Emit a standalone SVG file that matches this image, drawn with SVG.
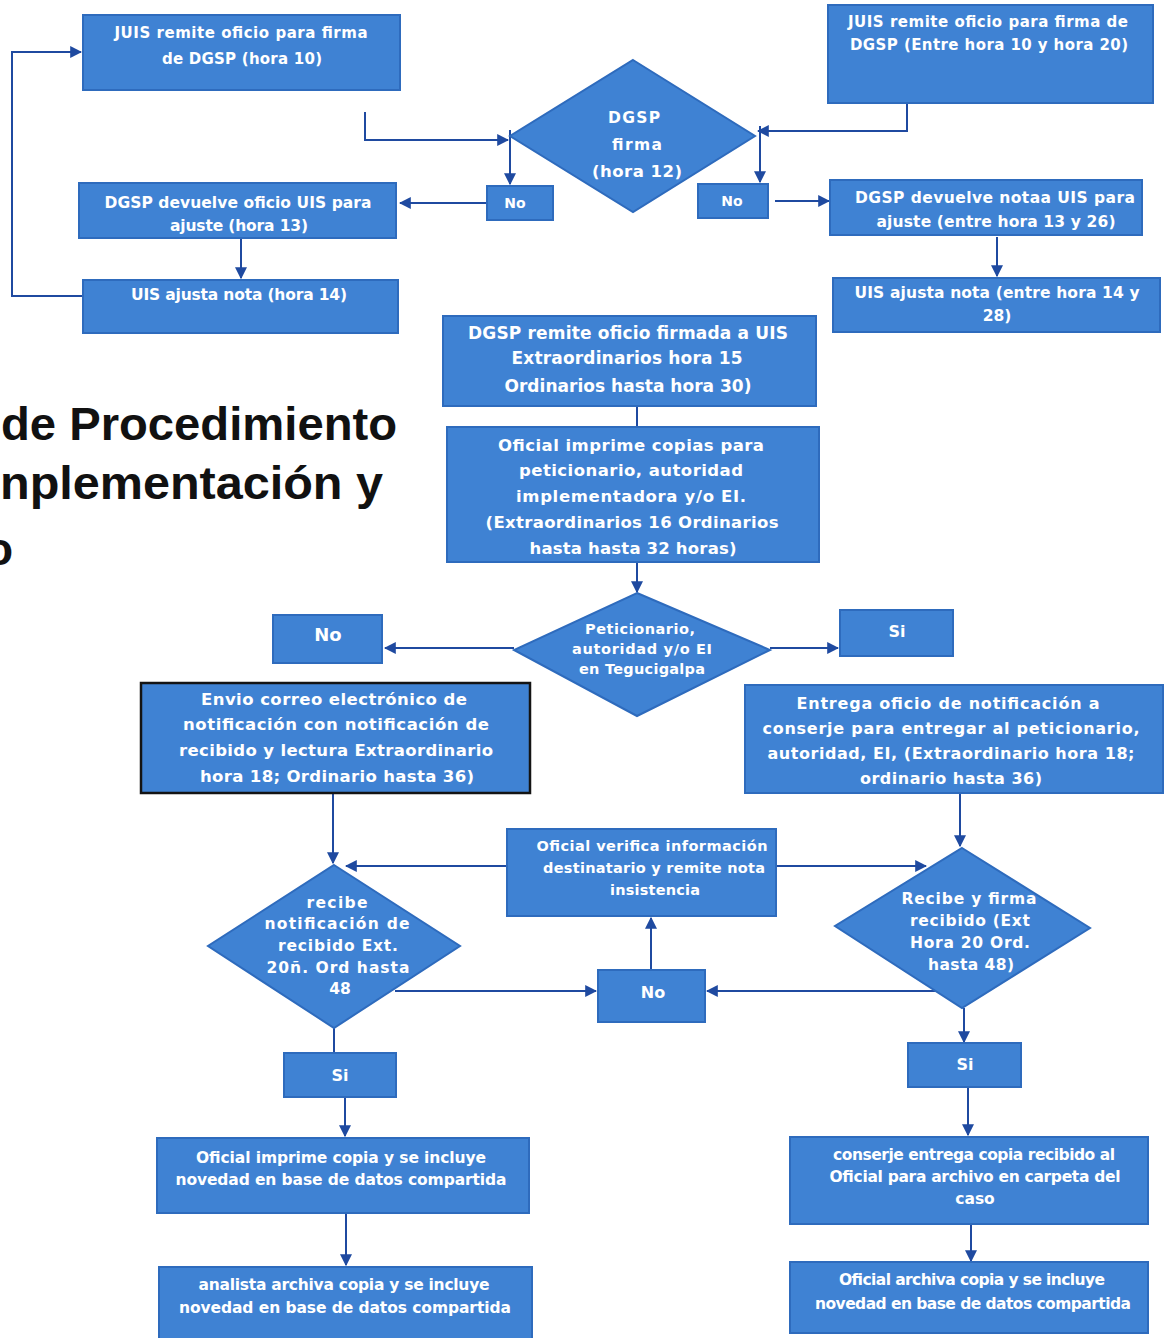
<svg xmlns="http://www.w3.org/2000/svg" width="1167" height="1338" viewBox="0 0 1167 1338">
<style>
.bx{fill:#3f82d3;stroke:#2e6bbd;stroke-width:2}
.bk{fill:#3f82d3;stroke:#141414;stroke-width:2.5}
.t{font-family:"DejaVu Sans","Liberation Sans",sans-serif;font-weight:bold;fill:#ffffff;text-anchor:middle}
.c{stroke:#1f4aa0;stroke-width:2;fill:none}
.ca{stroke:#1f4aa0;stroke-width:2;fill:none;marker-end:url(#a)}
.ti{font-family:"Liberation Sans",Arial,sans-serif;font-weight:bold;fill:#111111;font-size:46px}
</style>
<defs>
<marker id="a" viewBox="0 0 10 10" refX="9" refY="5" markerWidth="6" markerHeight="6" orient="auto" markerUnits="strokeWidth">
<path d="M0,0 L10,5 L0,10 z" fill="#1f4aa0"/>
</marker>
</defs>
<rect width="1167" height="1338" fill="#ffffff"/>

<g id="title">
<text class="ti" x="1" y="440" textLength="396" lengthAdjust="spacingAndGlyphs">de Procedimiento</text>
<text class="ti" x="0" y="499" textLength="383" lengthAdjust="spacingAndGlyphs">nplementación y</text>
<text class="ti" x="-15" y="565">o</text>
</g>

<g id="connectors">
<path class="ca" d="M83,296 H12 V52 H81"/>
<path class="ca" d="M365,112 V140 H508"/>
<path class="ca" d="M510,130 V184"/>
<path class="ca" d="M486,203 H400"/>
<path class="ca" d="M241,239 V278"/>
<path class="ca" d="M907,103 V131 H758"/>
<path class="ca" d="M760,126 V182"/>
<path class="ca" d="M775,201 H829"/>
<path class="ca" d="M997,237 V276"/>
<path class="c" d="M637,406 V427"/>
<path class="ca" d="M637,562 V592"/>
<path class="ca" d="M514,648 H385"/>
<path class="ca" d="M770,648 H838"/>
<path class="ca" d="M333,793 V863"/>
<path class="ca" d="M507,866 H346"/>
<path class="ca" d="M776,866 H926"/>
<path class="ca" d="M960,793 V846"/>
<path class="ca" d="M395,991 H596"/>
<path class="ca" d="M937,991 H707"/>
<path class="ca" d="M651,970 V918"/>
<path class="c" d="M334,1028 V1053"/>
<path class="ca" d="M345,1097 V1136"/>
<path class="ca" d="M346,1213 V1265"/>
<path class="ca" d="M964,1008 V1042"/>
<path class="ca" d="M968,1087 V1135"/>
<path class="ca" d="M971,1224 V1261"/>
</g>

<g id="n1">
<rect class="bx" x="83" y="15" width="317" height="75"/>
<text class="t" x="241" y="38" font-size="15" textLength="253">JUIS remite oficio  para firma</text>
<text class="t" x="242" y="64" font-size="15" textLength="160">de DGSP (hora 10)</text>
</g>

<g id="n2">
<rect class="bx" x="828" y="5" width="325" height="98"/>
<text class="t" x="988" y="27" font-size="15" textLength="280">JUIS remite oficio para firma de</text>
<text class="t" x="989" y="50" font-size="15" textLength="278">DGSP (Entre hora 10 y hora 20)</text>
</g>

<g id="n3">
<polygon class="bx" points="633,60 755,136 633,212 510,136"/>
<text class="t" x="634" y="123" font-size="15.5" textLength="52">DGSP</text>
<text class="t" x="637" y="150" font-size="15.5" font-weight="normal" textLength="50">firma</text>
<text class="t" x="637" y="177" font-size="16.5" font-weight="normal" textLength="90">(hora 12)</text>
</g>

<g id="n4">
<rect class="bx" x="487" y="186" width="66" height="34"/>
<text class="t" x="515" y="208" font-size="14">No</text>
</g>

<g id="n5">
<rect class="bx" x="698" y="184" width="70" height="34"/>
<text class="t" x="732" y="206" font-size="14" font-weight="normal">No</text>
</g>

<g id="n6">
<rect class="bx" x="79" y="183" width="317" height="55"/>
<text class="t" x="238" y="208" font-size="15.5" textLength="267">DGSP devuelve oficio UIS  para</text>
<text class="t" x="239" y="231" font-size="15.5" textLength="138">ajuste (hora 13)</text>
</g>

<g id="n7">
<rect class="bx" x="83" y="280" width="315" height="53"/>
<text class="t" x="239" y="300" font-size="15.5" textLength="216">UIS ajusta nota (hora 14)</text>
</g>

<g id="n8">
<rect class="bx" x="830" y="180" width="312" height="55"/>
<text class="t" x="995" y="203" font-size="15.5" textLength="280">DGSP devuelve notaa UIS  para</text>
<text class="t" x="996" y="227" font-size="15.5" font-weight="normal" textLength="239">ajuste (entre hora 13 y 26)</text>
</g>

<g id="n9">
<rect class="bx" x="833" y="278" width="327" height="54"/>
<text class="t" x="997" y="298" font-size="15.5" textLength="285">UIS ajusta nota (entre hora 14 y</text>
<text class="t" x="997" y="321" font-size="15.5">28)</text>
</g>

<g id="n10">
<rect class="bx" x="443" y="316" width="373" height="90"/>
<text class="t" x="628" y="339" font-size="17" textLength="320">DGSP remite oficio firmada a UIS</text>
<text class="t" x="627" y="364" font-size="17" textLength="231">Extraordinarios hora 15</text>
<text class="t" x="628" y="392" font-size="17" textLength="247">Ordinarios hasta hora 30)</text>
</g>

<g id="n11">
<rect class="bx" x="447" y="427" width="372" height="135"/>
<text class="t" x="631" y="451" font-size="16.5" textLength="266">Oficial imprime copias para</text>
<text class="t" x="631" y="476" font-size="16.5" textLength="224">peticionario, autoridad</text>
<text class="t" x="631" y="502" font-size="16.5" textLength="230">implementadora y/o EI.</text>
<text class="t" x="632" y="528" font-size="16.5" textLength="293">(Extraordinarios 16 Ordinarios</text>
<text class="t" x="633" y="554" font-size="16.5" textLength="207">hasta hasta 32 horas)</text>
</g>

<g id="n12">
<polygon class="bx" points="637,593 770,650 637,716 514,650"/>
<text class="t" x="640" y="634" font-size="14.5" textLength="110">Peticionario,</text>
<text class="t" x="642" y="654" font-size="14.5" textLength="140">autoridad y/o EI</text>
<text class="t" x="642" y="674" font-size="14.5" textLength="126">en Tegucigalpa</text>
</g>

<g id="n13">
<rect class="bx" x="273" y="615" width="109" height="48"/>
<text class="t" x="328" y="641" font-size="18">No</text>
</g>

<g id="n14">
<rect class="bx" x="840" y="610" width="113" height="46"/>
<text class="t" x="897" y="637" font-size="16">Si</text>
</g>

<g id="n15">
<rect class="bk" x="141" y="683" width="389" height="110"/>
<text class="t" x="334" y="705" font-size="16.5" textLength="266">Envio correo electrónico de</text>
<text class="t" x="336" y="730" font-size="16.5" textLength="306">notificación con notificación de</text>
<text class="t" x="336" y="756" font-size="16.5" textLength="314">recibido y lectura Extraordinario</text>
<text class="t" x="337" y="782" font-size="16.5" textLength="274">hora 18; Ordinario hasta 36)</text>
</g>

<g id="n16">
<rect class="bx" x="745" y="685" width="418" height="108"/>
<text class="t" x="948" y="709" font-size="16" textLength="303">Entrega oficio de notificación a</text>
<text class="t" x="951" y="734" font-size="16" textLength="377">conserje para entregar al peticionario,</text>
<text class="t" x="951" y="759" font-size="16" textLength="367">autoridad, EI, (Extraordinario hora 18;</text>
<text class="t" x="951" y="784" font-size="16" font-weight="normal" textLength="182">ordinario hasta 36)</text>
</g>

<g id="n17">
<rect class="bx" x="507" y="829" width="269" height="87"/>
<text class="t" x="652" y="851" font-size="14.5" textLength="231">Oficial verifica información</text>
<text class="t" x="654" y="873" font-size="14.5" textLength="222">destinatario y remite nota</text>
<text class="t" x="655" y="895" font-size="14.5" textLength="90">insistencia</text>
</g>

<g id="n18">
<polygon class="bx" points="334,865 460,946 334,1028 208,946"/>
<text class="t" x="337" y="908" font-size="15.5" textLength="61">recibe</text>
<text class="t" x="337" y="929" font-size="15.5" textLength="145">notificación de</text>
<text class="t" x="338" y="951" font-size="15.5" textLength="120">recibido Ext.</text>
<text class="t" x="338" y="973" font-size="15.5" textLength="143">20ñ. Ord hasta</text>
<text class="t" x="340" y="994" font-size="15.5">48</text>
</g>

<g id="n19">
<polygon class="bx" points="962,848 1090,928 962,1008 835,926"/>
<text class="t" x="969" y="904" font-size="15.5" font-weight="normal" textLength="135">Recibe y firma</text>
<text class="t" x="970" y="926" font-size="15.5" font-weight="normal" textLength="120">recibido (Ext</text>
<text class="t" x="970" y="948" font-size="15.5" font-weight="normal" textLength="120">Hora 20 Ord.</text>
<text class="t" x="971" y="970" font-size="15.5" font-weight="normal" textLength="86">hasta 48)</text>
</g>

<g id="n20">
<rect class="bx" x="598" y="970" width="107" height="52"/>
<text class="t" x="653" y="998" font-size="16" font-weight="normal">No</text>
</g>

<g id="n21">
<rect class="bx" x="284" y="1053" width="112" height="44"/>
<text class="t" x="340" y="1081" font-size="16">Si</text>
</g>

<g id="n22">
<rect class="bx" x="908" y="1043" width="113" height="44"/>
<text class="t" x="965" y="1070" font-size="16" font-weight="normal">Si</text>
</g>

<g id="n23">
<rect class="bx" x="157" y="1138" width="372" height="75"/>
<text class="t" x="341" y="1163" font-size="15.5" textLength="290">Oficial imprime copia y se incluye</text>
<text class="t" x="341" y="1185" font-size="15.5" textLength="331">novedad en base de datos compartida</text>
</g>

<g id="n24">
<rect class="bx" x="159" y="1267" width="373" height="73"/>
<text class="t" x="344" y="1290" font-size="15.5" textLength="291">analista archiva copia y se incluye</text>
<text class="t" x="345" y="1313" font-size="15.5" textLength="332">novedad en base de datos compartida</text>
</g>

<g id="n25">
<rect class="bx" x="790" y="1137" width="358" height="87"/>
<text class="t" x="974" y="1160" font-size="15.5" textLength="282">conserje entrega copia recibido al</text>
<text class="t" x="975" y="1182" font-size="15.5" textLength="291">Oficial para archivo en carpeta del</text>
<text class="t" x="975" y="1204" font-size="15.5">caso</text>
</g>

<g id="n26">
<rect class="bx" x="790" y="1262" width="358" height="71"/>
<text class="t" x="972" y="1285" font-size="15.5" textLength="266">Oficial archiva copia y se incluye</text>
<text class="t" x="973" y="1309" font-size="15.5" textLength="316">novedad en base de datos compartida</text>
</g>
</svg>
